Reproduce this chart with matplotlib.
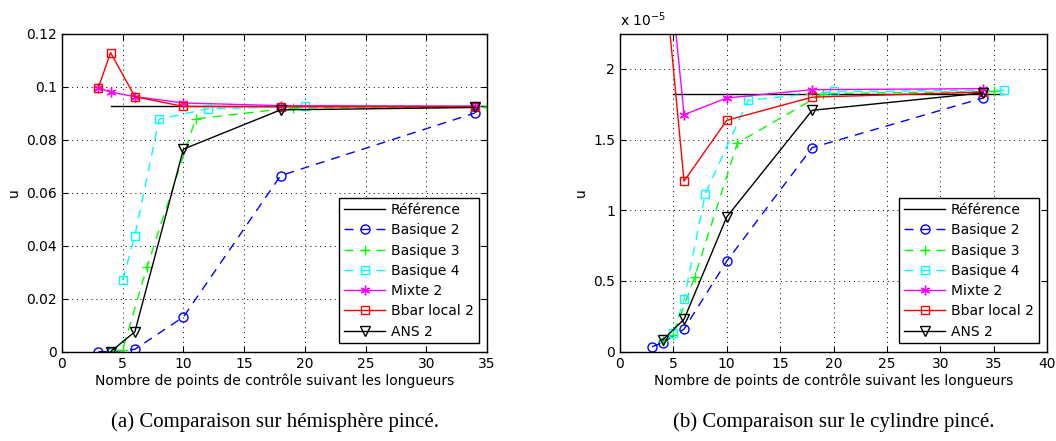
import matplotlib
matplotlib.use("Agg")
import matplotlib.pyplot as plt
from matplotlib.ticker import FuncFormatter

plt.rcParams['font.family'] = ['DejaVu Sans']

# ---------------- data: (a) hémisphère pincé ----------------
ref_a_x = [4, 35]
ref_a_y = [0.0925, 0.0925]
b2_a_x = [3, 4, 6, 10, 18, 34]
b2_a_y = [0.0, 0.0, 0.0009, 0.0131, 0.0664, 0.0900]
b3_a_x = [4, 5, 7, 11, 19, 35]
b3_a_y = [0.0, 0.0008, 0.0320, 0.0878, 0.0920, 0.0922]
b4_a_x = [5, 6, 8, 12, 20, 36]
b4_a_y = [0.0270, 0.0438, 0.0877, 0.0916, 0.0925, 0.0925]
mx_a_x = [3, 4, 6, 10, 18, 34]
mx_a_y = [0.0996, 0.0979, 0.0962, 0.0938, 0.0928, 0.0926]
bb_a_x = [3, 4, 6, 10, 18, 34]
bb_a_y = [0.0996, 0.1128, 0.0962, 0.0925, 0.0924, 0.0924]
ans_a_x = [4, 6, 10, 18, 34]
ans_a_y = [0.0, 0.0075, 0.0764, 0.0912, 0.0921]

# ---------------- data: (b) cylindre pincé (units of 1e-5) ----------------
ref_b_x = [5, 36]
ref_b_y = [1.822, 1.822]
b2_b_x = [3, 4, 6, 10, 18, 34]
b2_b_y = [0.035, 0.064, 0.16, 0.64, 1.443, 1.794]
b3_b_x = [4, 5, 7, 11, 19, 35]
b3_b_y = [0.075, 0.118, 0.53, 1.476, 1.825, 1.84]
b4_b_x = [5, 6, 8, 12, 20, 36]
b4_b_y = [0.134, 0.372, 1.118, 1.778, 1.84, 1.848]
mx_b_x = [3, 4, 6, 10, 18, 34]
mx_b_y = [3.5, 3.2, 1.676, 1.794, 1.853, 1.86]
bb_b_x = [3, 4, 6, 10, 18, 34]
bb_b_y = [3.0, 2.8, 1.206, 1.636, 1.80, 1.836]
ans_b_x = [4, 6, 10, 18, 34]
ans_b_y = [0.083, 0.229, 0.953, 1.707, 1.83]

labels = ['Référence', 'Basique 2', 'Basique 3', 'Basique 4', 'Mixte 2',
          'Bbar local 2', 'ANS 2']
xlabel = 'Nombre de points de contrôle suivant les longueurs'
captions = ['(a) Comparaison sur hémisphère pincé.',
            '(b) Comparaison sur le cylindre pincé.']

dash = (0, (6.5, 5))
styles = [
    dict(color='k', ls='-', marker=None),
    dict(color=(0, 0, 1), ls=dash, marker='o'),
    dict(color=(0, 1, 0), ls=dash, marker='+'),
    dict(color=(0, 1, 1), ls=dash, marker='s'),
    dict(color=(1, 0, 1), ls='-', marker=(6, 2, 0)),
    dict(color=(1, 0, 0), ls='-', marker='s'),
    dict(color='k', ls='-', marker='v'),
]
msizes = [0, 6.5, 7, 5.5, 7, 5.5, 6.5]

fig = plt.figure(figsize=(10.56, 4.41), dpi=100)
ax1 = fig.add_axes([0.0587, 0.2025, 0.4025, 0.7215])
ax2 = fig.add_axes([0.5871, 0.2025, 0.4044, 0.7215])

def draw(ax, series, scale):
    for (x, y), st, ms, lab in zip(series, styles, msizes, labels):
        ax.plot(x, [v * scale for v in y], color=st['color'], ls=st['ls'],
                marker=st['marker'], ms=ms, mfc='none', mec=st['color'],
                mew=1.0, lw=1.0, label=lab, clip_on=True)
    ax.grid(True, ls=(0, (1, 4)), color='k', lw=0.7)
    ax.tick_params(direction='in', top=True, right=True, labelsize=10,
                   length=4, width=0.8)
    for s in ax.spines.values():
        s.set_linewidth(1.0)
    ax.set_xlabel(xlabel, fontsize=10, labelpad=2)
    ax.set_ylabel('u', fontsize=10)
    leg = ax.legend(loc='lower right', fontsize=10, handlelength=3.0,
                    labelspacing=0.45, fancybox=False, framealpha=1,
                    edgecolor='k', borderaxespad=0.6, borderpad=0.35,
                    handletextpad=0.4, numpoints=1)
    leg.get_frame().set_linewidth(1.0)

series_a = [(ref_a_x, ref_a_y), (b2_a_x, b2_a_y), (b3_a_x, b3_a_y),
            (b4_a_x, b4_a_y), (mx_a_x, mx_a_y), (bb_a_x, bb_a_y),
            (ans_a_x, ans_a_y)]
series_b = [(ref_b_x, ref_b_y), (b2_b_x, b2_b_y), (b3_b_x, b3_b_y),
            (b4_b_x, b4_b_y), (mx_b_x, mx_b_y), (bb_b_x, bb_b_y),
            (ans_b_x, ans_b_y)]

draw(ax1, series_a, 1.0)
ax1.set_xlim(0, 35)
ax1.set_ylim(0, 0.12)
ax1.set_xticks(range(0, 36, 5))
ax1.set_yticks([0, 0.02, 0.04, 0.06, 0.08, 0.1, 0.12])
ax1.yaxis.set_major_formatter(FuncFormatter(lambda v, p: ('%g' % round(v, 3))))

draw(ax2, series_b, 1e-5)
ax2.set_xlim(0, 40)
ax2.set_ylim(0, 2.25e-5)
ax2.set_xticks(range(0, 41, 5))
ax2.set_yticks([0, 0.5e-5, 1e-5, 1.5e-5, 2e-5])
ax2.yaxis.set_major_formatter(FuncFormatter(lambda v, p: '%g' % round(v * 1e5, 3)))
ax2.text(0.0, 1.015, r'x 10$^{-5}$', transform=ax2.transAxes, fontsize=10,
         ha='left', va='bottom')

fig.text(0.26, 0.043, captions[0], family='Liberation Serif', fontsize=15,
         ha='center', va='center')
fig.text(0.79, 0.043, captions[1], family='Liberation Serif', fontsize=15,
         ha='center', va='center')

fig.savefig('out.png', dpi=100)
